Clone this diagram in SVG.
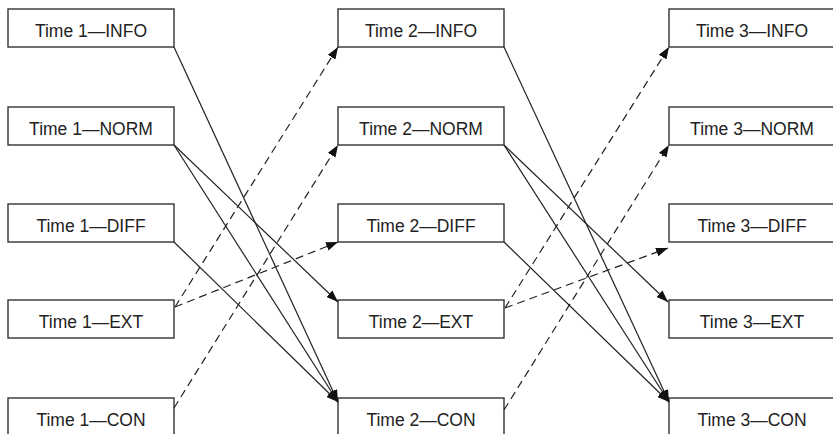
<svg xmlns="http://www.w3.org/2000/svg" width="833" height="434" viewBox="0 0 833 434">
<style>
.box{fill:#fff;stroke:#333;stroke-width:1.4}
.lbl{font-family:"Liberation Sans",Arial,sans-serif;font-size:17.5px;fill:#222;text-anchor:middle}
.c{fill:none;stroke:#222;stroke-width:1.2}
.d{stroke-dasharray:8 5}
</style>
<defs>
<marker id="ah" markerUnits="userSpaceOnUse" markerWidth="13" markerHeight="9" refX="12" refY="4.5" orient="auto">
<path d="M0,0 L12,4.5 L0,9 z" fill="#111"/>
</marker>
</defs>
<rect width="833" height="434" fill="#fff"/>
<g id="n1-info"><rect class="box" x="8" y="9" width="166" height="38"/><text class="lbl" x="91" y="36.5">Time 1—INFO</text></g>
<g id="n1-norm"><rect class="box" x="8" y="107" width="166" height="38"/><text class="lbl" x="91" y="134.5">Time 1—NORM</text></g>
<g id="n1-diff"><rect class="box" x="8" y="204" width="166" height="38"/><text class="lbl" x="91" y="231.5">Time 1—DIFF</text></g>
<g id="n1-ext"><rect class="box" x="8" y="300" width="166" height="38"/><text class="lbl" x="91" y="327.5">Time 1—EXT</text></g>
<g id="n1-con"><rect class="box" x="8" y="398" width="166" height="38"/><text class="lbl" x="91" y="425.5">Time 1—CON</text></g>
<g id="n2-info"><rect class="box" x="338" y="9" width="166" height="38"/><text class="lbl" x="421" y="36.5">Time 2—INFO</text></g>
<g id="n2-norm"><rect class="box" x="338" y="107" width="166" height="38"/><text class="lbl" x="421" y="134.5">Time 2—NORM</text></g>
<g id="n2-diff"><rect class="box" x="338" y="204" width="166" height="38"/><text class="lbl" x="421" y="231.5">Time 2—DIFF</text></g>
<g id="n2-ext"><rect class="box" x="338" y="300" width="166" height="38"/><text class="lbl" x="421" y="327.5">Time 2—EXT</text></g>
<g id="n2-con"><rect class="box" x="338" y="398" width="166" height="38"/><text class="lbl" x="421" y="425.5">Time 2—CON</text></g>
<g id="n3-info"><rect class="box" x="669" y="9" width="166" height="38"/><text class="lbl" x="752" y="36.5">Time 3—INFO</text></g>
<g id="n3-norm"><rect class="box" x="669" y="107" width="166" height="38"/><text class="lbl" x="752" y="134.5">Time 3—NORM</text></g>
<g id="n3-diff"><rect class="box" x="669" y="204" width="166" height="38"/><text class="lbl" x="752" y="231.5">Time 3—DIFF</text></g>
<g id="n3-ext"><rect class="box" x="669" y="300" width="166" height="38"/><text class="lbl" x="752" y="327.5">Time 3—EXT</text></g>
<g id="n3-con"><rect class="box" x="669" y="398" width="166" height="38"/><text class="lbl" x="752" y="425.5">Time 3—CON</text></g>
<g id="connectors">
<line class="c" x1="174" y1="47" x2="338" y2="402" marker-end="url(#ah)"/>
<line class="c" x1="174" y1="145" x2="338" y2="302" marker-end="url(#ah)"/>
<line class="c" x1="174" y1="145" x2="338" y2="402" marker-end="url(#ah)"/>
<line class="c" x1="174" y1="242" x2="338" y2="402" marker-end="url(#ah)"/>
<line class="c d" x1="175" y1="307" x2="338" y2="47" marker-end="url(#ah)"/>
<line class="c d" x1="175" y1="307" x2="338" y2="242" marker-end="url(#ah)"/>
<line class="c d" x1="174" y1="408" x2="338" y2="145" marker-end="url(#ah)"/>
<line class="c" x1="504" y1="47" x2="669" y2="402" marker-end="url(#ah)"/>
<line class="c" x1="504" y1="145" x2="668" y2="302" marker-end="url(#ah)"/>
<line class="c" x1="504" y1="145" x2="669" y2="402" marker-end="url(#ah)"/>
<line class="c" x1="504" y1="242" x2="669" y2="402" marker-end="url(#ah)"/>
<line class="c d" x1="505" y1="308" x2="669" y2="47" marker-end="url(#ah)"/>
<line class="c d" x1="505" y1="308" x2="668" y2="248" marker-end="url(#ah)"/>
<line class="c d" x1="504" y1="410" x2="669" y2="145" marker-end="url(#ah)"/>
</g>
</svg>
